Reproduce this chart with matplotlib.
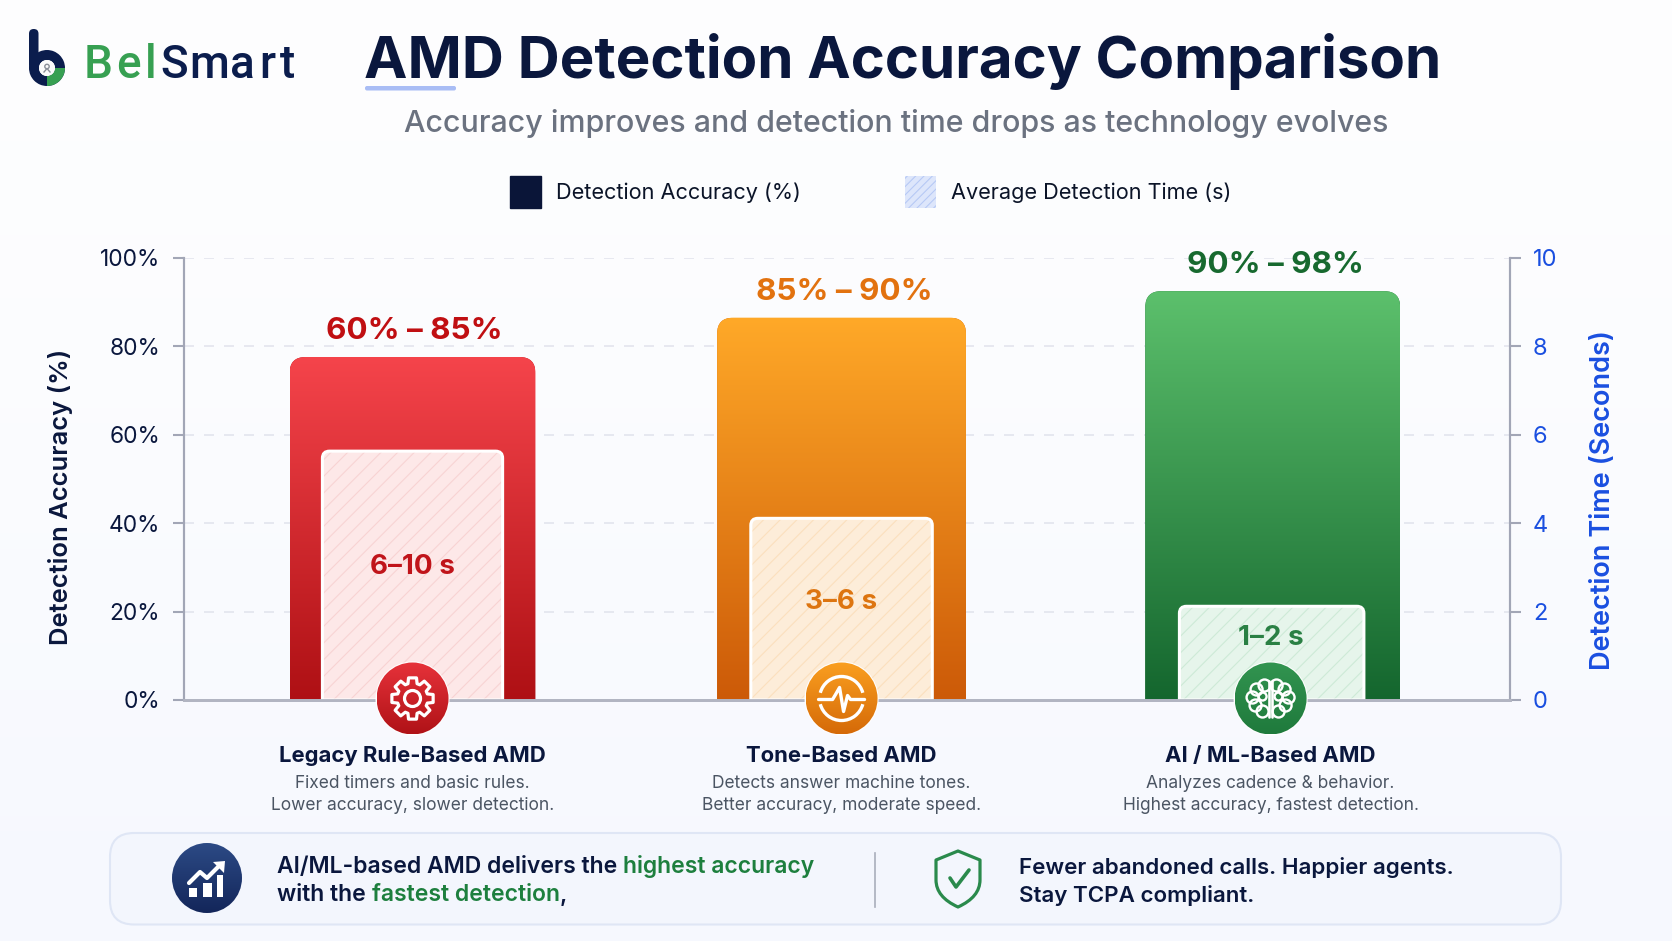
import numpy as np
import matplotlib
matplotlib.use("Agg")
import matplotlib.pyplot as plt
from matplotlib.path import Path
from matplotlib.patches import PathPatch, Patch, Circle, FancyBboxPatch, Polygon, Wedge, Arc, Rectangle
from matplotlib.colors import LinearSegmentedColormap

# ---------- data ----------
categories = ["Legacy Rule-Based AMD", "Tone-Based AMD", "AI / ML-Based AMD"]
accuracy_heights = [77.6, 86.5, 92.5]
time_heights = [5.63, 4.11, 2.12]
accuracy_labels = ["60% – 85%", "85% – 90%", "90% – 98%"]
time_labels = ["6–10 s", "3–6 s", "1–2 s"]
desc_line1 = ["Fixed timers and basic rules.", "Detects answer machine tones.", "Analyzes cadence & behavior."]
desc_line2 = ["Lower accuracy, slower detection.", "Better accuracy, moderate speed.", "Highest accuracy, fastest detection."]
accuracy_ticks = [0, 20, 40, 60, 80, 100]
time_ticks = [0, 2, 4, 6, 8, 10]

# ---------- styles ----------
W, H = 1672, 941
FONT = "Inter"
plt.rcParams["font.family"] = [FONT, "DejaVu Sans"]
NAVY = "#0a173d"
BLUE = "#1a4fe0"
AXC = "#a2a6b6"
outer_w = [0.573, 0.580, 0.594]
inner_w = [0.420, 0.423, 0.430]
bar_shift = [0, 0, 0.005]
acc_dx = [2, 3, 5]
outer_cols = [("#f5444b", "#ae1014"), ("#ffa928", "#cc5a08"), ("#5cc06c", "#14662e")]
inner_fill = ["#fde8e8", "#fdedd9", "#e6f5eb"]
inner_hatch = ["#f8d3d3", "#fbe0bd", "#cdead7"]
acc_txt = ["#c00f12", "#e2720f", "#17692f"]
time_txt = ["#c0141a", "#dd7510", "#2a8044"]
time_offs = [116, 84, 32]
icon_cols = [("#e6323a", "#b01217"), ("#fa9f20", "#d56a08"), ("#329450", "#1f7a3c")]
px_x = 429.0


def top_round(x0, x1, top, rx, ry):
    v = [(x0, 0), (x0, top - ry), (x0, top), (x0 + rx, top), (x1 - rx, top), (x1, top), (x1, top - ry), (x1, 0), (x0, 0)]
    c = [Path.MOVETO, Path.LINETO, Path.CURVE3, Path.CURVE3, Path.LINETO, Path.CURVE3, Path.CURVE3, Path.LINETO, Path.CLOSEPOLY]
    return Path(v, c)


fig = plt.figure(figsize=(W / 100, H / 100), dpi=100)

# background
bg = fig.add_axes([0, 0, 1, 1], zorder=-5)
bg.axis("off")
yy, xx = np.mgrid[0:1:60j, 0:1:100j]
bgcm = LinearSegmentedColormap.from_list("bg", ["#ffffff", "#f6f8fe"])
bg.imshow(0.15 + 0.85 * yy ** 1.3, cmap=bgcm, vmin=0, vmax=1, aspect="auto", extent=[0, 1, 0, 1])

# ---------- main axes ----------
ax = fig.add_axes([183.5 / W, (H - 700) / H, 1326.5 / W, 442 / H], zorder=1)
ax.patch.set_visible(False)
ax2 = ax.twinx()
ax2.patch.set_visible(False)
xs = np.arange(len(categories))
xlim = (-229.0 / px_x, (1510 - 412.6) / px_x)

for i, (x0, v) in enumerate(zip(xs, accuracy_heights)):
    x = x0 + bar_shift[i]
    w = outer_w[i]
    clip = PathPatch(top_round(x - w / 2, x + w / 2, v, 16 / px_x, 16 / 4.42), fc="none", ec="none", transform=ax.transData)
    ax.add_patch(clip)
    bar = ax.bar(x, v, w, color=outer_cols[i][1], zorder=2)[0]
    bar.set_clip_path(clip)
    cm = LinearSegmentedColormap.from_list(f"c{i}", [outer_cols[i][0], outer_cols[i][1]])
    im = ax.imshow(np.linspace(0, 1, 256).reshape(-1, 1), cmap=cm, aspect="auto",
                   extent=[x - w / 2, x + w / 2, 0, v], zorder=2.1)
    im.set_clip_path(clip)
    ax.annotate(accuracy_labels[i], (x0, v), xytext=(acc_dx[i] * 0.72, 26 * 0.72), textcoords="offset points",
                ha="center", va="center", fontsize=22.6, fontweight="bold", color=acc_txt[i], zorder=5)

ry2 = 7 / 44.2
plt.rcParams["hatch.linewidth"] = 0.8
for i, (x0, v) in enumerate(zip(xs, time_heights)):
    x = x0 + bar_shift[i] / 2
    w = inner_w[i]
    p = top_round(x - w / 2, x + w / 2, v, 7 / px_x, ry2)
    clip = PathPatch(p, fc=inner_fill[i], ec="none", transform=ax2.transData, zorder=2)
    ax2.add_patch(clip)
    bar = ax2.bar(x, v, w, facecolor="none", edgecolor=inner_hatch[i], hatch="//", linewidth=0, zorder=2.05)[0]
    bar.set_clip_path(clip)
    border = PathPatch(p, fc="none", ec="white", lw=2.2, transform=ax2.transData, zorder=2.1)
    ax2.add_patch(border)
    ax2.annotate(time_labels[i], (x0, v), xytext=(0, -time_offs[i] * 0.72), textcoords="offset points",
                 ha="center", va="center", fontsize=20, fontweight="bold", color=time_txt[i], zorder=5)

ax.set_xlim(*xlim)
ax.set_ylim(0, 100)
ax2.set_ylim(0, 10)
ax.set_yticks(accuracy_ticks)
ax.set_yticklabels([f"{t}%" for t in accuracy_ticks])
ax2.set_yticks(time_ticks)
ax.set_xticks(xs)
ax.set_xticklabels(categories, fontsize=15.9, fontweight="bold", color=NAVY)
ax.tick_params(axis="x", length=0, pad=33.3)
ax.tick_params(axis="y", length=8, width=1.5, color=AXC, labelsize=16.4, labelcolor=NAVY, pad=9)
ax2.tick_params(axis="y", length=8, width=1.5, color=AXC, labelsize=17, labelcolor=BLUE, pad=8.5)
ax.yaxis.grid(True, linestyle=(0, (6, 6)), color="#e3e5ee", linewidth=1.2, zorder=0)
ax.set_axisbelow(True)
for a in (ax, ax2):
    a.spines["top"].set_visible(False)
    a.spines["left"].set_color(AXC)
    a.spines["right"].set_color(AXC)
    a.spines["left"].set_linewidth(1.5)
    a.spines["right"].set_linewidth(1.5)
    a.spines["bottom"].set_color("#b2b5c2")
    a.spines["bottom"].set_linewidth(2)
ax.set_ylabel("Detection Accuracy (%)", fontsize=18.4, color=NAVY, fontweight="semibold")
ax.yaxis.set_label_coords((61 - 183.5) / 1326.5, 0.459)
ax2.set_ylabel("Detection Time (Seconds)", fontsize=19.5, color=BLUE, fontweight="semibold")
ax2.yaxis.set_label_coords((1603 - 183.5) / 1326.5, 0.4525)
ax.yaxis.label.set_verticalalignment("center")
ax2.yaxis.label.set_verticalalignment("center")

# ---------- overlay in pixel space ----------
ov = fig.add_axes([0, 0, 1, 1], zorder=10)
ov.set_xlim(0, W)
ov.set_ylim(H, 0)
ov.axis("off")
ov.patch.set_visible(False)


def T(x, y, s, **k):
    k.setdefault("va", "center")
    k.setdefault("ha", "left")
    return ov.text(x, y, s, **k)


# logo
ov.add_patch(FancyBboxPatch((29, 29), 9.5, 40, boxstyle="round,pad=0,rounding_size=4.7", fc="#0b1d4d", ec="none"))
ov.add_patch(Wedge((47, 68), 18, 0, 360, width=10, fc="#0b1d4d", ec="none"))
ov.add_patch(Wedge((47, 68), 18, 0, 90, width=10, fc="#37a052", ec="none"))
ov.add_patch(Circle((47, 68), 8, fc="#fbfbfb", ec="none"))
ov.add_patch(Circle((47, 66.5), 2.2, fc="none", ec="#8a8f98", lw=1))
ov.plot([44, 47, 50], [72, 68.5, 72], color="#8a8f98", lw=1)
for ch, cx, col in zip("BelSmart", [98, 128, 151, 174, 209, 242, 267, 288],
                       ["#37a052"] * 3 + ["#0b1d4d"] * 5):
    ov.text(cx, 78, ch, fontsize=33, family="Roboto", fontweight="medium", color=col, ha="center", va="baseline")

# title
T(364, 78, "AMD Detection Accuracy Comparison", fontsize=41.9, fontweight="bold", color=NAVY, va="baseline")
ov.add_patch(FancyBboxPatch((365, 86), 91, 4.5, boxstyle="round,pad=0,rounding_size=2", fc="#a9bdf5", ec="none"))
T(896, 123, "Accuracy improves and detection time drops as technology evolves",
  fontsize=21.85, color="#6b7280", ha="center", fontweight="medium")

# legend
h1 = Patch(facecolor="#0a1538", edgecolor="#0a1538", label="Detection Accuracy (%)")
h2 = Patch(facecolor="#dde6fb", edgecolor="#b7c9f5", hatch="////", linewidth=0, label="Average Detection Time (s)")
leg = fig.legend(handles=[h1, h2], ncols=2, frameon=False, fontsize=15.6, labelcolor="#0b1428",
                 handlelength=1.42, handleheight=1.9, handletextpad=0.7, columnspacing=4.8,
                 loc="center", bbox_to_anchor=(871 / W, 1 - 192 / H), borderpad=0)
leg.set_zorder(20)

# descriptions
centers_px = ax.transData.transform(np.c_[xs, np.zeros(len(xs))])[:, 0]
for cx, a, b in zip(centers_px, desc_line1, desc_line2):
    T(cx, 783, a, ha="center", fontsize=12.5, color="#4b5563")
    T(cx, 805, b, ha="center", fontsize=12.5, color="#4b5563")


def grad_circle(cx, cy, r, top, bot, edge="white"):
    c = Circle((cx, cy), r, fc=bot, ec=edge, lw=1.5, zorder=3)
    ov.add_patch(c)
    cm = LinearSegmentedColormap.from_list("g" + top, [top, bot])
    im = ov.imshow(np.linspace(0, 1, 128).reshape(-1, 1), cmap=cm, aspect="auto",
                   extent=[cx - r, cx + r, cy + r, cy - r], zorder=3.1)
    im.set_clip_path(Circle((cx, cy), r, transform=ov.transData))
    ov.set_xlim(0, W)
    ov.set_ylim(H, 0)


LW = {"color": "white", "solid_capstyle": "round", "solid_joinstyle": "round", "zorder": 4}
r_icon = 36
cxs = centers_px
for cx, (a, b) in zip(cxs, icon_cols):
    grad_circle(cx, 698.5, r_icon, a, b)

# gear
cx, cy = cxs[0], 698.5
n = 8
pts = []
for k in range(n):
    a0 = 2 * np.pi * k / n - np.pi / 2
    for da, rr in [(-0.30, 15.5), (-0.19, 21), (0.19, 21), (0.30, 15.5)]:
        pts.append((cx + rr * np.cos(a0 + da), cy + rr * np.sin(a0 + da)))
ov.add_patch(Polygon(pts, closed=True, fc="none", ec="white", lw=2.3, joinstyle="round", zorder=4))
ov.add_patch(Circle((cx, cy), 8, fc="none", ec="white", lw=2.3, zorder=4))

# pulse
cx = cxs[1]
ov.add_patch(Arc((cx, cy), 44, 44, theta1=195, theta2=345, color="white", lw=2.4, zorder=4))
ov.add_patch(Arc((cx, cy), 44, 44, theta1=15, theta2=165, color="white", lw=2.4, zorder=4))
ov.plot(cx + np.array([-23, -9, -6, -2, 2, 6, 9, 23]), cy + np.array([1, 1, -4, -11, 13, -3, 1, 1]), lw=2.4, **LW)

# brain
cx = cxs[2]
for sgn in (-1, 1):
    for dx, dy, r in [(6, -13, 6), (14, -9, 6), (18, -1, 6), (15, 7, 6), (8, 13, 6), (8, -2, 4)]:
        ov.add_patch(Circle((cx + sgn * dx, cy + dy), r, fc="none", ec="white", lw=1.7, zorder=4))
    ov.plot([cx + sgn * 1.5, cx + sgn * 1.5], [cy - 18, cy + 18], lw=1.9, **LW)

# banner
ov.add_patch(FancyBboxPatch((110, 833), 1451, 91.5, boxstyle="round,pad=0,rounding_size=24",
                            fc="#f3f6fd", ec="#dfe6f5", lw=1.5, zorder=1))
grad_circle(207, 878, 35, "#2c4a85", "#13265a", edge="#f3f6fd")
for x0, x1, top in [(189, 197, 888), (203, 212, 883), (217, 223, 875)]:
    ov.add_patch(Rectangle((x0, top), x1 - x0, 897 - top, fc="white", ec="none", zorder=4))
ov.plot([189, 200, 207, 220], [883, 872, 878, 865], lw=3, **LW)
ov.add_patch(Polygon([(213, 862), (225, 861), (224, 873)], closed=True, fc="white", ec="none", zorder=4))

ov.plot([875, 875], [853, 907], color="#a9aebc", lw=1.2, zorder=2)
# shield
sx = 958
shield = Path([(sx, 851), (sx + 22, 860), (sx + 22, 880), (sx + 22, 897), (sx, 907), (sx - 22, 897), (sx - 22, 880), (sx - 22, 860), (sx, 851)],
              [Path.MOVETO, Path.LINETO, Path.LINETO, Path.CURVE3, Path.CURVE3, Path.CURVE3, Path.CURVE3, Path.LINETO, Path.CLOSEPOLY])
ov.add_patch(PathPatch(shield, fc="none", ec="#2a8a4c", lw=2.3, joinstyle="round", zorder=3))
ov.plot([sx - 8, sx - 2, sx + 11], [878, 887, 870], color="#2a8a4c", lw=2.6, solid_capstyle="round", zorder=3)


def runs(x, y, parts, **k):
    r = fig.canvas.get_renderer()
    for s, col in parts:
        t = T(x, y, s, color=col, zorder=5, **k)
        x += t.get_window_extent(r).width


GR = "#1d7f3e"
bk = dict(fontsize=16.5, fontweight="semibold")
runs(277, 867, [("AI/ML-based AMD delivers the ", NAVY), ("highest accuracy", GR)], **bk)
runs(277, 895, [("with the ", NAVY), ("fastest detection", GR), (",", NAVY)], **bk)
bk2 = dict(fontsize=16.1, fontweight="semibold")
T(1019, 867, "Fewer abandoned calls. Happier agents.", color=NAVY, zorder=5, **bk2)
T(1019, 895, "Stay TCPA compliant.", color=NAVY, zorder=5, **bk2)

fig.savefig("out.png", dpi=100)
